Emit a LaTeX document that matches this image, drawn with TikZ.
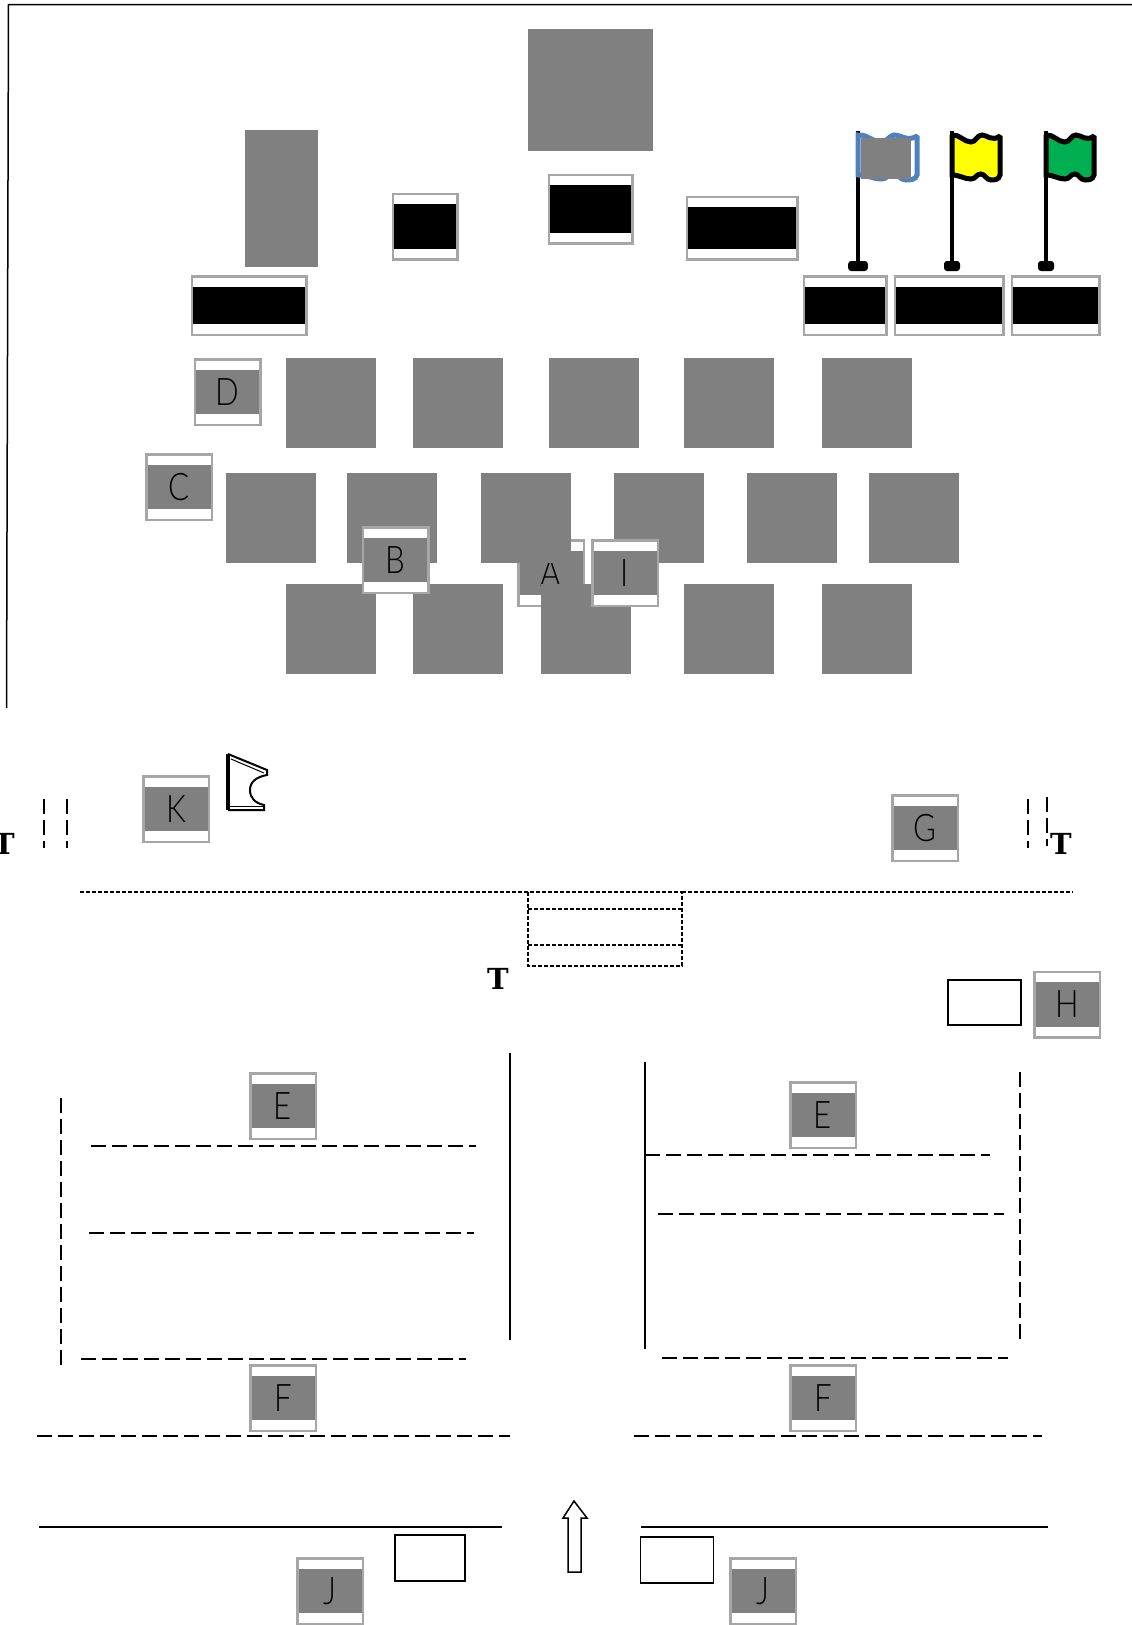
\documentclass[tikz,border=0pt]{standalone}
\usepackage{fontspec}
\setsansfont[FakeStretch=0.82]{Lato Light}
\newfontfamily\teefont{DejaVu Serif}
\definecolor{SeatGrey}{HTML}{808080}
\definecolor{BoxEdge}{HTML}{A6A6A6}
\definecolor{FlagBlue}{HTML}{4F81BD}
\definecolor{FlagYellow}{HTML}{FFFF00}
\definecolor{FlagGreen}{HTML}{00B050}
\tikzset{
    % Plain grey blocks
    block/.style={
        rectangle,
        fill=SeatGrey,
        inner sep=0pt,
        minimum width=90pt,
        minimum height=90pt
    },
    % Boxes with a white edge above and below the band
    tag/.style={
        rectangle,
        draw=BoxEdge,
        fill=white,
        line width=2.5pt,
        inner sep=0pt,
        minimum width=#1,
        path picture={
            \fill[band colour]
                ([yshift=-10.5pt]path picture bounding box.north west) rectangle
                ([yshift=10.5pt]path picture bounding box.south east);
        }
    },
    band colour/.style={fill=SeatGrey},
    letter box/.style={
        tag=65.5pt,
        minimum height=65.5pt,
        text=black,
        font=\sffamily\fontsize{38}{42}\selectfont
    },
    black box/.style={
        tag=#1,
        band colour/.style={fill=black},
        minimum height=58.5pt
    },
    empty box/.style={
        rectangle,
        draw=black,
        line width=1.5pt,
        fill=white
    },
    short dash/.style={
        draw=black,
        line width=2pt,
        dash pattern=on 4pt off 2pt
    },
    long dash/.style={
        draw=black,
        line width=1.6pt,
        dash pattern=on 15pt off 6pt
    },
    thick dash/.style={
        long dash,
        line width=2pt
    },
    solid wall/.style={
        draw=black,
        line width=1.5pt
    },
    tee/.style={
        inner sep=0pt,
        font=\teefont\bfseries\fontsize{29}{29}\selectfont
    },
    pics/flag/.style n args={2}{
        code={
            \draw[line width=4pt] (0,-4) -- (0,128);
            \fill[rounded corners=3pt] (-8,126) rectangle (8,136);
            \draw[line width=5pt, draw=#2, fill=#1, miter limit=1.5]
                (0,0) .. controls (7,-1) and (12,7) .. (19,7)
                .. controls (24,7) and (25,0) .. (30,0)
                .. controls (35,0) and (40,7) .. (48,1)
                -- (48,40) .. controls (47,45) and (42,45) .. (39,45)
                .. controls (34,45) and (33,39) .. (29,39)
                .. controls (24,39) and (24,44) .. (19,44)
                .. controls (12,44) and (8,40) .. (0,40) -- cycle;
        }
    }
}

\begin{document}
\begin{tikzpicture}[x=1pt, y=-1pt]
    \useasboundingbox (0,0) rectangle (1132,1625);

    % Frame
    \draw[solid wall] (1132,4.5) -- (8.5,4.5) -- (6.5,708);

    % Upper blocks
    \node[block, minimum width=125pt, minimum height=122pt] (stage) at (590.5,89.5) {};
    \node[block, minimum width=73pt, minimum height=137pt] (tower) at (281,198) {};

    % Black boxes
    \node[black box=64.5pt, minimum height=65.5pt] (blackA) at (425,226.5) {};
    \node[black box=83.5pt, minimum height=68.5pt] (blackB) at (590.5,209) {};
    \node[black box=110.5pt, minimum height=62.5pt] (blackC) at (742,228) {};
    \node[black box=114.5pt] (blackD) at (249,305.5) {};
    \node[black box=82.5pt] (blackE) at (845,305.5) {};
    \node[black box=108.5pt] (blackF) at (949,305.5) {};
    \node[black box=87.5pt] (blackG) at (1055.5,305.5) {};

    % Flags
    \pic[xscale=1.23] at (858,135) {flag={white}{FlagBlue}};
    \node[block, minimum width=50pt, minimum height=41pt] (flagBlock) at (886,158.5) {};
    \pic at (952,135) {flag={FlagYellow}{black}};
    \pic at (1046,135) {flag={FlagGreen}{black}};

    % A sits behind the blocks
    \node[letter box] (tagA) at (551,573) {A};

    % Block rows
    \node[block] (rowA1) at (331,403) {};
    \node[block] (rowA2) at (458,403) {};
    \node[block] (rowA3) at (594,403) {};
    \node[block] (rowA4) at (729,403) {};
    \node[block] (rowA5) at (867,403) {};

    \node[block] (rowB1) at (271,518) {};
    \node[block] (rowB2) at (392,518) {};
    \node[block] (rowB3) at (526,518) {};
    \node[block] (rowB4) at (659,518) {};
    \node[block] (rowB5) at (792,518) {};
    \node[block] (rowB6) at (914,518) {};

    \node[block] (rowC1) at (331,629) {};
    \node[block] (rowC2) at (458,629) {};
    \node[block] (rowC3) at (586,629) {};
    \node[block] (rowC4) at (729,629) {};
    \node[block] (rowC5) at (867,629) {};

    % Letter boxes
    \node[letter box] (tagD) at (227.5,392) {D};
    \node[letter box] (tagC) at (179,487) {C};
    \node[letter box] (tagB) at (395.5,560) {B};
    \node[letter box] (tagI) at (625,573) {I};
    \node[letter box] (tagK) at (176,809) {K};
    \node[letter box] (tagG) at (925,828) {G};
    \node[letter box] (tagH) at (1067,1004.5) {H};
    \node[letter box] (tagEl) at (283,1106) {E};
    \node[letter box] (tagEr) at (823,1115) {E};
    \node[letter box] (tagFl) at (283,1398) {F};
    \node[letter box] (tagFr) at (823,1398) {F};
    \node[letter box] (tagJl) at (330,1591) {J};
    \node[letter box] (tagJr) at (763,1591) {J};

    % Tees
    \node[tee] (teeL) at (4,844) {T};
    \node[tee] (teeR) at (1061,844) {T};
    \node[tee] (teeM) at (498,979) {T};

    % Small marker beside K
    \draw[line width=3.5pt] (228,754) -- (228,810);
    \draw[line width=2pt] (228,754) -- (267,770) -- (267,775)
        .. controls (256,777) and (250,782) .. (250,790)
        .. controls (250,798) and (255,803) .. (264,805)
        -- (264,810) -- (228,810);
    \draw[line width=1pt] (231,759) -- (264,773);
    \draw[line width=1pt] (230,806.5) -- (264,806.5);

    % Double dashes up top
    \draw[thick dash] (44,799) -- (44,848);
    \draw[thick dash] (66.5,799) -- (66.5,848);
    \draw[thick dash] (1028,799) -- (1028,848);
    \draw[thick dash] (1047,797) -- (1047,846);

    % Gate
    \draw[short dash] (80,892) -- (528,892);
    \draw[short dash] (682,892) -- (1073,892);
    \draw[short dash] (528,892) rectangle (682,966);
    \draw[short dash] (528,909) -- (682,909);
    \draw[short dash] (528,945) -- (682,945);

    % Empty boxes
    \node[empty box, minimum width=73pt, minimum height=45pt] (emptyH) at (984.5,1002.5) {};
    \node[empty box, minimum width=70pt, minimum height=46pt] (emptyJl) at (430,1558) {};
    \node[empty box, minimum width=73pt, minimum height=46pt] (emptyJr) at (677,1560) {};

    % Left field
    \draw[long dash] (61,1098) -- (61,1366);
    \draw[long dash] (91,1146) -- (476,1146);
    \draw[long dash] (89,1233) -- (474,1233);
    \draw[long dash] (81,1359) -- (466,1359);
    \draw[long dash] (37,1436) -- (510,1436);
    \draw[solid wall] (510,1053) -- (510,1340);
    \draw[solid wall] (39,1527) -- (502,1527);

    % Right field
    \draw[solid wall] (645,1062) -- (645,1349);
    \draw[long dash] (645,1155) -- (990,1155);
    \draw[long dash] (658,1214) -- (1004,1214);
    \draw[long dash] (1020,1072) -- (1020,1340);
    \draw[long dash] (662,1358) -- (1008,1358);
    \draw[long dash] (634,1436) -- (1042,1436);
    \draw[solid wall] (641,1527) -- (1048,1527);

    % Arrow
    \draw[solid wall, fill=white] (574,1501) -- (587,1518) -- (581,1518) -- (581,1572)
        -- (568,1572) -- (568,1518) -- (563,1518) -- cycle;
\end{tikzpicture}
\end{document}
